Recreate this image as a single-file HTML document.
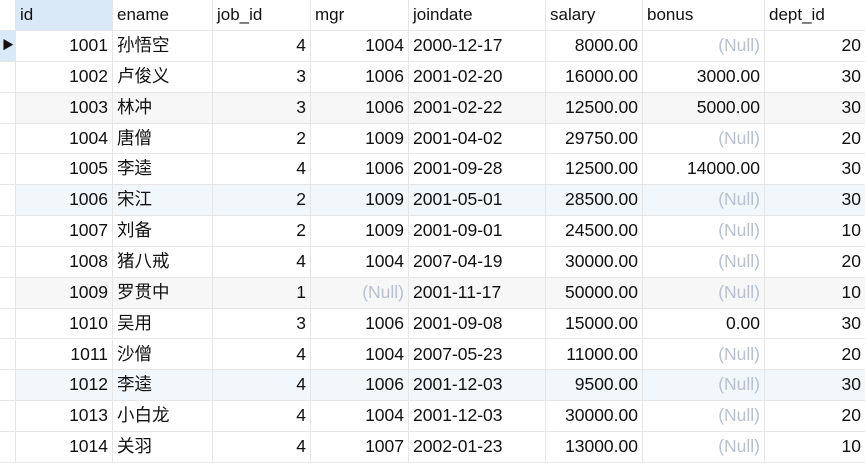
<!DOCTYPE html>
<html><head><meta charset="utf-8"><style>
body{margin:0;width:865px;height:463px;overflow:hidden;background:#fff;font-family:"Liberation Sans","Noto Sans CJK SC",sans-serif;font-size:17.5px;color:#111;}
#grid{position:relative;width:865px;height:463px;}
.c{position:absolute;box-sizing:border-box;border-right:1px solid #e6e6e6;border-bottom:1px solid #e6e6e6;padding:0 4px;white-space:nowrap;overflow:hidden;}
.r{text-align:right;}
.h{color:#111;font-size:17px;}
.null{color:#b9c0cf;}
</style></head><body>
<div id="grid"></div>
<script>
const headers=["id","ename","job_id","mgr","joindate","salary","bonus","dept_id"];
const ids=[1001,1002,1003,1004,1005,1006,1007,1008,1009,1010,1011,1012,1013,1014];
const enames=["孙悟空","卢俊义","林冲","唐僧","李逵","宋江","刘备","猪八戒","罗贯中","吴用","沙僧","李逵","小白龙","关羽"];
const jobIds=[4,3,3,2,4,2,2,4,1,3,4,4,4,4];
const mgrs=["1004","1006","1006","1009","1006","1009","1009","1004",null,"1006","1004","1006","1004","1007"];
const joindates=["2000-12-17","2001-02-20","2001-02-22","2001-04-02","2001-09-28","2001-05-01","2001-09-01","2007-04-19","2001-11-17","2001-09-08","2007-05-23","2001-12-03","2001-12-03","2002-01-23"];
const salaries=["8000.00","16000.00","12500.00","29750.00","12500.00","28500.00","24500.00","30000.00","50000.00","15000.00","11000.00","9500.00","30000.00","13000.00"];
const bonuses=[null,"3000.00","5000.00",null,"14000.00",null,null,null,null,"0.00",null,null,null,null];
const depts=[20,30,30,20,30,30,10,20,10,30,20,30,20,10];
const colX=[0,16,113,213,311,409,546,643,765,866];
const align=[1,0,1,1,0,1,1,1];
const g=document.getElementById('grid');
const H0=31,RH=30.85;
function cell(x,y,w,h,txt,cls,bg){const d=document.createElement('div');d.className='c '+cls;d.style.left=x+'px';d.style.top=y+'px';d.style.width=w+'px';d.style.height=h+'px';d.style.lineHeight=(h-1)+'px';if(bg)d.style.background=bg;d.textContent=txt;g.appendChild(d);return d;}
const hc=cell(0,0,16,H0,'','',null);


headers.forEach((t,i)=>{const d=cell(colX[i+1],0,colX[i+2]-colX[i+1],H0,t,'h',i==0?'#dae9f8':null);

});
const stripes={2:'#f7f7f7',5:'#f2f7fc',8:'#f7f7f7',11:'#f2f7fc'};
for(let r=0;r<ids.length;r++){
 const y=H0+r*RH;const bg=stripes[r]||null;
 const ind=cell(0,y,16,RH,r==0?'▶':'','',r==0?'#dae9f8':null);
 ind.style.fontSize='12px';ind.style.padding='0 2px';
 
 
 const vals=[ids[r],enames[r],jobIds[r],mgrs[r],joindates[r],salaries[r],bonuses[r],depts[r]];
 vals.forEach((v,i)=>{const isNull=v===null;const d=cell(colX[i+1],y,colX[i+2]-colX[i+1],RH,isNull?'(Null)':String(v),(align[i]||isNull?'r ':'')+(isNull?'null':''),bg);
 
 });
}
</script>
</body></html>
